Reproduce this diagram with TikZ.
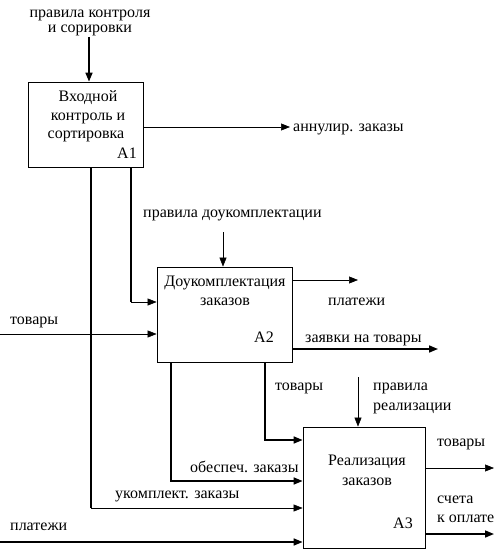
\documentclass[tikz,border=0pt]{standalone}
\usepackage{fontspec}
\setmainfont{Liberation Serif}
\usetikzlibrary{arrows.meta}
\begin{document}
\begin{tikzpicture}[x=1pt,y=-1pt,
  thin/.style={line width=0.6pt},
  thick/.style={line width=1.6pt},
  arr/.style={-{Triangle[length=9pt,width=7pt]}},
  procbox/.style={draw,line width=0.8pt,inner sep=0pt},
  lbl/.style={font=\fontsize{16}{18}\selectfont,inner sep=0pt,anchor=base},
  lblw/.style={lbl,anchor=base west}]
\useasboundingbox (0,0) rectangle (500,553);
% boxes
\node[procbox,minimum width=115pt,minimum height=85pt] (A1) at (85.5,124.5) {};
\node[procbox,minimum width=135pt,minimum height=95pt] (A2) at (224.5,314.5) {};
\node[procbox,minimum width=122pt,minimum height=121pt] (A3) at (364,487.5) {};
% box texts
\node[lbl] (t1a) at (88,102) {Входной};
\node[lbl] (t1b) at (88,121) {контроль и};
\node[lbl] (t1c) at (86,139) {сортировка};
\node[lbl] (t1d) at (127,159) {A1};
\node[lbl] (t2a) at (225,286) {Доукомплектация};
\node[lbl] (t2b) at (225,305) {заказов};
\node[lbl] (t2c) at (264,342) {A2};
\node[lbl] (t3a) at (367,465) {Реализация};
\node[lbl] (t3b) at (367,485) {заказов};
\node[lbl] (t3c) at (403,528) {A3};
% labels
\node[lbl] (l1) at (90,18) {правила контроля};
\node[lbl] (l2) at (90,33) {и сорировки};
\node[lblw] (l3) at (293,132) {аннулир. заказы};
\node[lblw] (l4) at (143,217) {правила доукомплектации};
\node[lblw] (l5) at (328,305) {платежи};
\node[lblw] (l6) at (305,342) {заявки на товары};
\node[lblw] (l7) at (10,324) {товары};
\node[lblw] (l8) at (275,390) {товары};
\node[lblw] (l9) at (373,390) {правила};
\node[lblw] (l10) at (373,410) {реализации};
\node[lblw] (l11) at (437,446) {товары};
\node[lblw] (l12) at (437,503) {счета};
\node[lblw] (l13) at (437,522) {к оплате};
\node[lblw] (l14) at (190,472) {обеспеч. заказы};
\node[lblw] (l15) at (115,498) {укомплект. заказы};
\node[lblw] (l16) at (10,530) {платежи};
% free ends
\coordinate (c1) at (89,37);
\coordinate (o1) at (290,127);
\coordinate (c2) at (223,232);
\coordinate (i2) at (0,334);
\coordinate (o2a) at (358,280);
\coordinate (o2b) at (438,349);
\coordinate (c3) at (358,377);
\coordinate (o3a) at (494,468);
\coordinate (o3b) at (494,534);
\coordinate (i3) at (0,542);
% connectors
\draw[thick,arr] (c1) -- (c1 |- A1.north);
\draw[thin,arr] (A1.east |- o1) -- (o1);
\draw[thick] (A1.south -| 131,0) -- (131,302);
\draw[thin,arr] (131,302) -- (A2.west |- 0,302);
\draw[thick] (A1.south -| 91,0) -- (91,508);
\draw[thin,arr] (91,508) -- (A3.west |- 0,508);
\draw[thin,arr] (c2) -- (c2 |- A2.north);
\draw[thin,arr] (i2) -- (A2.west |- i2);
\draw[thin,arr] (A2.east |- o2a) -- (o2a);
\draw[thick,arr] (A2.east |- o2b) -- (o2b);
\draw[thick] (A2.south -| 171,0) -- (171,481) -- (297,481);
\draw[thick,arr] (297,481) -- (A3.west |- 0,481);
\draw[thick] (A2.south -| 265,0) -- (265,440) -- (297,440);
\draw[thick,arr] (297,440) -- (A3.west |- 0,440);
\draw[thin,arr] (c3) -- (c3 |- A3.north);
\draw[thin,arr] (A3.east |- o3a) -- (o3a);
\draw[thick,arr] (A3.east |- o3b) -- (o3b);
\draw[thick,arr] (i3) -- (A3.west |- i3);
\end{tikzpicture}
\end{document}
